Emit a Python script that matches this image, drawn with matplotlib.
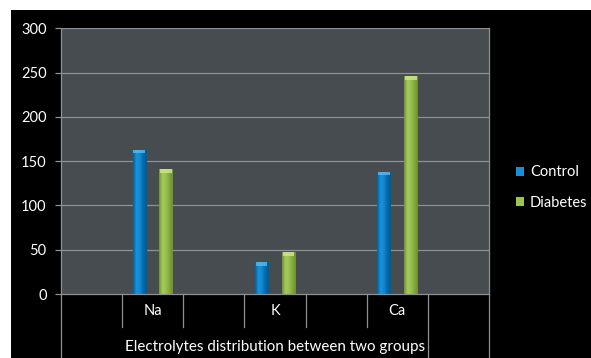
import matplotlib
matplotlib.use("Agg")
import matplotlib.pyplot as plt
import numpy as np
from matplotlib.patches import Rectangle
from matplotlib.colors import LinearSegmentedColormap
from matplotlib.lines import Line2D
import matplotlib.transforms as mtransforms

# Data
categories = ["", "Na", "", "K", "", "Ca", ""]
control = [None, 163, None, 36, None, 138, None]
diabetes = [None, 141, None, 47, None, 246, None]
series_names = ["Control", "Diabetes"]
group_label = "Electrolytes distribution between two groups"
yticks = [0, 50, 100, 150, 200, 250, 300]

plt.rcParams["font.family"] = ["Lato", "DejaVu Sans"]

W, H = 591, 358
fig = plt.figure(figsize=(W / 100, H / 100), dpi=100, facecolor="white")

# black chart background, leaving a thin white border at top and left
fig.patches.append(Rectangle((11 / W, 0), 1 - 11 / W, 1 - 10 / H,
                             transform=fig.transFigure, facecolor="black",
                             edgecolor="none", zorder=-10))

ax_l, ax_r = 61 / W, 489 / W
ax_b, ax_t = (H - 294) / H, (H - 28.3) / H
ax = fig.add_axes([ax_l, ax_b, ax_r - ax_l, ax_t - ax_b])
ax.set_facecolor("#474c50")

n = len(categories)
ax.set_xlim(-0.5, n - 0.5)
ax.set_ylim(0, 300)
ax.set_yticks(yticks)
ax.set_yticklabels([str(v) for v in yticks], color="white", fontsize=10.5)
ax.set_xticks([])
grid_c = "#8e9193"
for v in yticks[1:]:
    ax.axhline(v, color=grid_c, lw=0.9, zorder=0)
ax.tick_params(axis="y", length=4.3, width=0.9, color=grid_c, pad=6.0)
ax.spines["top"].set_visible(False)
for s in ["left", "bottom", "right"]:
    ax.spines[s].set_color(grid_c)
    ax.spines[s].set_linewidth(0.9)

# cylinder-like shading for bars
blue_cmap = LinearSegmentedColormap.from_list(
    "b", ["#005e9c", "#1a94dc", "#1487cc", "#0069ab", "#005a94"])
green_cmap = LinearSegmentedColormap.from_list(
    "g", ["#6f9233", "#a5cc5c", "#99c050", "#82a840", "#6d8e32"])
cap_colors = ["#55b8ef", "#c9e58b"]

w = 0.22
grad = np.linspace(0, 1, 64).reshape(1, -1)
for vals, off, cmap, capc in [(control, -w, blue_cmap, cap_colors[0]),
                              (diabetes, w, green_cmap, cap_colors[1])]:
    xs = [i + off for i, v in enumerate(vals) if v is not None]
    hs = [v for v in vals if v is not None]
    bars = ax.bar(xs, hs, width=w, color="none", edgecolor="none", zorder=2)
    for b in bars:
        x0, bw, h = b.get_x(), b.get_width(), b.get_height()
        im = ax.imshow(grad, cmap=cmap, aspect="auto",
                       extent=(x0, x0 + bw, 0, h), zorder=2,
                       interpolation="bicubic")
        im.set_clip_path(b)
        cap_h = min(4.0, h)
        ax.bar(x0 + bw / 2, cap_h, bottom=h - cap_h, width=bw * 0.86,
               color=capc, edgecolor="none", zorder=3, alpha=0.85)
ax.set_xlim(-0.5, n - 0.5)
ax.set_ylim(0, 300)

# category axis below the plot
trans = mtransforms.blended_transform_factory(ax.transData, fig.transFigure)
y_axis = (H - 294) / H
y_short = (H - 327) / H
for k in range(n + 1):
    xk = k - 0.5
    full = k in (0, n - 1, n)
    ax.add_line(Line2D([xk, xk], [0 if full else y_short, y_axis],
                       transform=trans, color=grid_c, lw=0.9,
                       clip_on=False))
for i, c in enumerate(categories):
    if c:
        t = fig.text(0, (H - 311) / H, c, transform=trans, ha="center",
                     va="center", color="white", fontsize=10.5)
        t.set_x(i)
gt = fig.text(0, (H - 347) / H, group_label, transform=trans, ha="center",
              va="center", color="white", fontsize=10.9)
gt.set_x((n - 1) / 2)

# legend
handles = [Rectangle((0, 0), 1, 1, facecolor=c) for c in ["#1a8fd6", "#9bc455"]]
leg = fig.legend(handles, series_names, loc="center left",
                 bbox_to_anchor=(503 / W, (H - 187.5) / H), frameon=False,
                 fontsize=10.5, labelcolor="white", handlelength=0.55,
                 handleheight=0.55, handletextpad=0.4, labelspacing=1.1)

fig.savefig("out.png", dpi=100, facecolor=fig.get_facecolor())
